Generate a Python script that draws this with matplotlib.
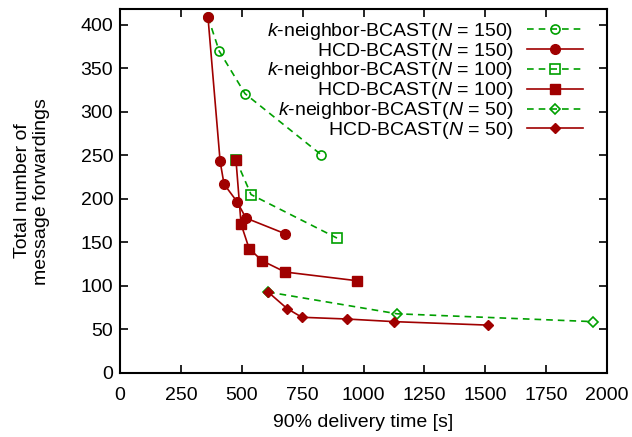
import matplotlib
matplotlib.use("Agg")
import matplotlib.pyplot as plt

GREEN = "#00a000"
RED = "#a00000"

k150_x = [361, 407, 513, 825]
k150_y = [409, 370, 321, 251]
hcd150_x = [361, 411, 427, 480, 517, 678]
hcd150_y = [409, 243, 217, 197, 178, 160]
k100_x = [476, 538, 891]
k100_y = [245, 205, 155]
hcd100_x = [476, 497, 530, 583, 678, 973]
hcd100_y = [245, 171, 143, 129, 116, 106]
k50_x = [608, 1138, 1942]
k50_y = [93, 68, 59]
hcd50_x = [608, 686, 747, 932, 1125, 1511]
hcd50_y = [93, 74, 64, 62, 59, 55]

plt.rcParams["font.family"] = ["Liberation Sans", "DejaVu Sans"]
plt.rcParams["mathtext.fontset"] = "custom"
plt.rcParams["mathtext.it"] = "Liberation Sans:italic"
plt.rcParams["mathtext.rm"] = "Liberation Sans"

FS = 14

fig = plt.figure(figsize=(6.32, 4.37), dpi=100)
ax = fig.add_axes([0.19, 0.1465, 0.7704, 0.8325])

dash = dict(ls=(0, (4, 3)), lw=1.2, color=GREEN)
solid = dict(ls="-", lw=1.2, color=RED)

ax.plot(k150_x, k150_y, marker="o", ms=6.5, mfc="none", mec=GREEN, mew=1.2,
        label=r"$k$-neighbor-BCAST($N$ = 150)", **dash)
ax.plot(hcd150_x, hcd150_y, marker="o", ms=7, mfc=RED, mec=RED,
        label=r"HCD-BCAST($N$ = 150)", **solid)
ax.plot(k100_x, k100_y, marker="s", ms=7, mfc="none", mec=GREEN, mew=1.2,
        label=r"$k$-neighbor-BCAST($N$ = 100)", **dash)
ax.plot(hcd100_x, hcd100_y, marker="s", ms=7.5, mfc=RED, mec=RED,
        label=r"HCD-BCAST($N$ = 100)", **solid)
ax.plot(k50_x, k50_y, marker="D", ms=5, mfc="none", mec=GREEN, mew=1.2,
        label=r"$k$-neighbor-BCAST($N$ = 50)", **dash)
ax.plot(hcd50_x, hcd50_y, marker="D", ms=5, mfc=RED, mec=RED,
        label=r"HCD-BCAST($N$ = 50)", **solid)

ax.set_xlim(0, 2000)
ax.set_ylim(0, 418)
ax.set_xticks(range(0, 2001, 250))
ax.set_yticks(range(0, 401, 50))
ax.tick_params(direction="in", length=6, width=1.2, top=True, right=True,
               labelsize=FS, pad=5)
ax.tick_params(axis="x", pad=10)
for s in ax.spines.values():
    s.set_linewidth(1.5)

ax.set_xlabel("90% delivery time [s]", fontsize=FS, labelpad=7)
ax.set_ylabel("Total number of\nmessage forwardings", fontsize=FS,
              labelpad=22, linespacing=1.15)

ax.legend(loc="upper right", frameon=False, markerfirst=False, fontsize=FS,
          handlelength=2.9, labelspacing=-0.055, borderaxespad=0,
          handletextpad=0.7, bbox_to_anchor=(0.967, 0.99))

fig.savefig("out.png", dpi=100)
